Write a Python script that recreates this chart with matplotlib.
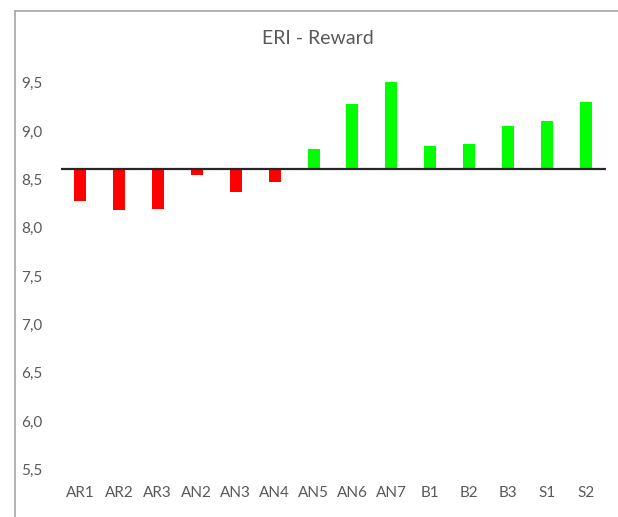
import matplotlib
matplotlib.use("Agg")
import matplotlib.pyplot as plt
from matplotlib.lines import Line2D

# ERI reward scores per group, bars drawn from the axis crossing value
groups = ['AR1', 'AR2', 'AR3', 'AN2', 'AN3', 'AN4', 'AN5', 'AN6', 'AN7',
          'B1', 'B2', 'B3', 'S1', 'S2']
scores = [8.28, 8.18, 8.19, 8.55, 8.37, 8.47, 8.81, 9.28, 9.51,
          8.84, 8.87, 9.05, 9.10, 9.30]
baseline = 8.61
yticks = [5.5, 6.0, 6.5, 7.0, 7.5, 8.0, 8.5, 9.0, 9.5]

plt.rcParams['font.family'] = ['Lato', 'DejaVu Sans']
txt_col = '#595959'

W, H = 618, 517
fig = plt.figure(figsize=(W / 100, H / 100), dpi=100)

# pixel layout
y_top, y_bot = 10.0, 5.4
px_per_unit = 96.65
px_top = 82.7 - (y_top - 9.5) * px_per_unit
px_bot = 82.7 + (9.5 - y_bot) * px_per_unit
ax = fig.add_axes([60.5 / W, 1 - px_bot / H, 545 / W, (px_bot - px_top) / H])

colors = ['#FF0000' if s < baseline else '#00FF00' for s in scores]
heights = [s - baseline for s in scores]
x = list(range(len(groups)))
ax.bar(x, heights, bottom=baseline, width=0.31, color=colors, zorder=2)
ax.axhline(baseline, color='#262626', lw=1.6, zorder=3)

ax.set_xlim(-0.5, len(groups) - 0.5)
ax.set_ylim(y_bot, y_top)
ax.set_yticks(yticks)
ax.set_yticklabels([('%.1f' % v).replace('.', ',') for v in yticks])
ax.set_xticks(x)
ax.set_xticklabels(groups)
ax.tick_params(axis='both', length=0, labelsize=11, labelcolor=txt_col)
ax.tick_params(axis='y', pad=13)
ax.tick_params(axis='x', pad=5)
for s in ax.spines.values():
    s.set_visible(False)

fig.text(318 / W, 1 - 39 / H, 'ERI - Reward', ha='center', va='center',
         fontsize=14, color=txt_col)

# chart area border (cropped on the right and bottom)
border = '#A6A6A6'
fig.add_artist(Line2D([15 / W, 15 / W], [0, 1 - 11.3 / H], color=border, lw=1.2))
fig.add_artist(Line2D([15 / W, 1], [1 - 11.3 / H, 1 - 11.3 / H], color=border, lw=1.2))

fig.savefig('out.png', dpi=100)
